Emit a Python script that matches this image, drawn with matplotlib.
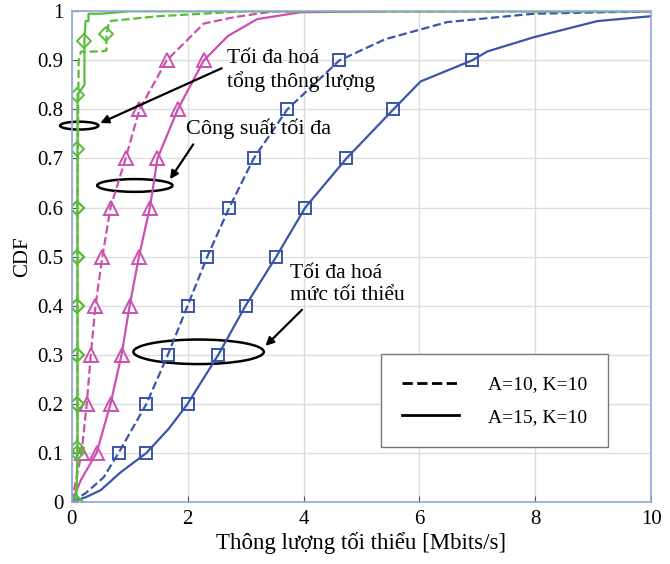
import matplotlib
matplotlib.use("Agg")
import matplotlib.pyplot as plt
from matplotlib.patches import Ellipse

plt.rcParams["font.family"] = ["Liberation Serif", "DejaVu Serif"]

# CDF curves: (throughput in Mbits/s, CDF level)
maxmin_a15_x = [0.0, 0.25, 0.5, 0.84, 1.29, 1.68, 2.0, 2.53, 3.0, 3.53, 4.03, 4.74, 5.55,
                6.02, 6.91, 7.17, 7.97, 9.07, 10.0]
maxmin_a15_y = [0.0, 0.01, 0.024, 0.06, 0.1, 0.15, 0.2, 0.3, 0.4, 0.5, 0.6, 0.7, 0.8,
                0.857, 0.9, 0.918, 0.947, 0.98, 0.99]

maxmin_a10_x = [0.0, 0.24, 0.55, 0.81, 1.29, 1.66, 2.0, 2.34, 2.72, 3.14, 3.72, 4.62,
                5.41, 6.48, 7.97, 10.0]
maxmin_a10_y = [0.0, 0.018, 0.05, 0.1, 0.2, 0.3, 0.4, 0.5, 0.6, 0.7, 0.8, 0.9,
                0.943, 0.978, 0.995, 1.0]

maxpow_a15_x = [0.0, 0.16, 0.43, 0.67, 0.86, 1.0, 1.16, 1.35, 1.48, 1.83, 2.28, 2.7,
                3.2, 3.95, 5.4]
maxpow_a15_y = [0.0, 0.045, 0.1, 0.2, 0.3, 0.4, 0.5, 0.6, 0.7, 0.8, 0.9, 0.95,
                0.984, 0.998, 1.0]

maxpow_a10_x = [0.0, 0.17, 0.26, 0.33, 0.41, 0.53, 0.67, 0.93, 1.17, 1.64, 2.28, 2.8,
                3.5, 10.0]
maxpow_a10_y = [0.0, 0.1, 0.2, 0.3, 0.4, 0.5, 0.6, 0.7, 0.8, 0.9, 0.975, 0.988,
                1.0, 1.0]

sumrate_a15_x = [0.08, 0.1, 0.1, 0.1, 0.1, 0.1, 0.1, 0.1, 0.1, 0.22, 0.22, 0.24, 0.29,
                 0.29, 0.5, 1.0, 10.0]
sumrate_a15_y = [0.0, 0.11, 0.2, 0.3, 0.4, 0.5, 0.6, 0.72, 0.83, 0.85, 0.94, 0.98, 0.98,
                 0.995, 0.995, 1.0, 1.0]
sumrate_a15_marks = [0, 1, 2, 3, 4, 5, 6, 7, 8, 10]

sumrate_a10_x = [0.08, 0.1, 0.1, 0.1, 0.1, 0.1, 0.1, 0.12, 0.16, 0.5, 0.6, 0.6, 0.65,
                 1.5, 3.0, 10.0]
sumrate_a10_y = [0.0, 0.1, 0.2, 0.3, 0.4, 0.5, 0.6, 0.9, 0.918, 0.918, 0.92, 0.953,
                 0.98, 0.99, 1.0, 1.0]
sumrate_a10_marks = [0, 1, 2, 3, 4, 5, 6, 11]

mark_levels = [0.0, 0.1, 0.2, 0.3, 0.4, 0.5, 0.6, 0.7, 0.8, 0.9]

legend_labels = ["A=10, K=10", "A=15, K=10"]
note_sumrate = "Tối đa hoá\ntổng thông lượng"
note_maxpow = "Công suất tối đa"
note_maxmin = "Tối đa hoá\nmức tối thiểu"

BLUE = "#3a55a8"
MAGENTA = "#cc4fb2"
GREEN = "#5cbb3a"
SPINE = "#8ea9db"


def level_marks(ys):
    return [i for i, v in enumerate(ys) if any(abs(v - m) < 1e-9 for m in mark_levels)]


fig = plt.figure(figsize=(6.7, 5.64), dpi=100)
ax = fig.add_axes([0.107, 0.110, 0.865, 0.870])

common = dict(markerfacecolor="none", markeredgewidth=1.4, linewidth=1.6)
ax.plot(maxmin_a10_x, maxmin_a10_y, "--", color=BLUE, marker="s", markersize=8,
        markevery=level_marks(maxmin_a10_y)[1:], **common)
ax.plot(maxmin_a15_x, maxmin_a15_y, "-", color=BLUE, marker="s", markersize=8,
        markevery=level_marks(maxmin_a15_y)[1:], **common)
ax.plot(maxpow_a10_x, maxpow_a10_y, "--", color=MAGENTA, marker="^", markersize=10,
        markevery=level_marks(maxpow_a10_y), **common)
ax.plot(maxpow_a15_x, maxpow_a15_y, "-", color=MAGENTA, marker="^", markersize=10,
        markevery=level_marks(maxpow_a15_y), **common)
ax.plot(sumrate_a10_x, sumrate_a10_y, "--", color=GREEN, marker="D", markersize=7,
        markevery=sumrate_a10_marks, **common)
ax.plot(sumrate_a15_x, sumrate_a15_y, "-", color=GREEN, marker="D", markersize=7,
        markevery=sumrate_a15_marks, **common)

# legend drawn with black line samples
h1, = ax.plot([], [], "--", color="black", linewidth=2)
h2, = ax.plot([], [], "-", color="black", linewidth=2)
leg = ax.legend([h1, h2], legend_labels, loc="lower right", bbox_to_anchor=(0.926, 0.112),
                borderaxespad=0, fontsize=14, handlelength=2.9, handletextpad=1.5,
                borderpad=1.1, labelspacing=0.75, fancybox=False, framealpha=1,
                edgecolor="#777777")
leg.get_frame().set_linewidth(1.0)

# annotations: ellipses + arrows
ax.add_patch(Ellipse((0.13, 0.767), 0.66, 0.016, fill=False, color="black", lw=1.8,
                     clip_on=False))
ax.add_patch(Ellipse((1.09, 0.645), 1.3, 0.026, fill=False, color="black", lw=1.8))
ax.add_patch(Ellipse((2.19, 0.306), 2.25, 0.05, fill=False, color="black", lw=1.8))

arrow = dict(arrowstyle="-|>", color="black", lw=1.6, mutation_scale=12)
ax.annotate(note_sumrate, xy=(0.45, 0.77), xytext=(2.68, 0.88), fontsize=15.5,
            va="center", ha="left", arrowprops=dict(arrow, relpos=(0, 0.6)))
ax.annotate(note_maxpow, xy=(1.67, 0.653), xytext=(1.98, 0.76), fontsize=16,
            va="center", ha="left", arrowprops=dict(arrow, relpos=(0.07, 0)))
ax.annotate(note_maxmin, xy=(3.31, 0.314), xytext=(3.76, 0.443), fontsize=15.5,
            va="center", ha="left", arrowprops=dict(arrow, relpos=(0.15, 0)))

ax.set_xlim(0, 10)
ax.set_ylim(0, 1)
ax.set_xticks(range(0, 11, 2))
ax.set_yticks([i / 10 for i in range(11)])
ax.set_yticklabels(["0"] + [f"0.{i}" for i in range(1, 10)] + ["1"])
ax.tick_params(direction="in", labelsize=15, length=4, color="#555555", pad=6)
ax.grid(color="#dddddd", linewidth=1)
ax.set_axisbelow(True)
for s in ax.spines.values():
    s.set_color(SPINE)
    s.set_linewidth(1.2)

ax.set_xlabel("Thông lượng tối thiểu [Mbits/s]", fontsize=16.5, labelpad=2)
ax.set_ylabel("CDF", fontsize=15, labelpad=4)

fig.savefig("out.png", dpi=100)
